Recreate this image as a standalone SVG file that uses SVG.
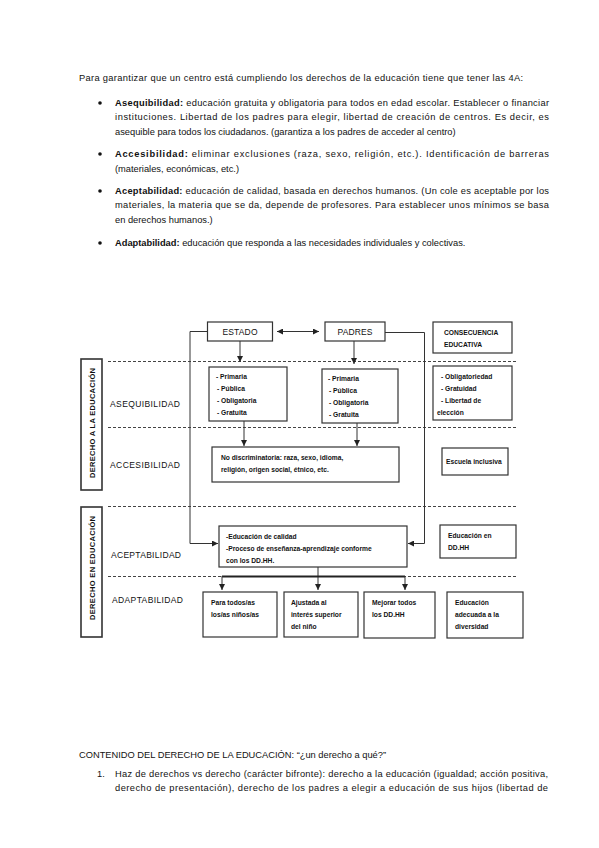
<svg xmlns="http://www.w3.org/2000/svg" width="599" height="848" viewBox="0 0 599 848">
<defs>
<marker id="ah" markerUnits="userSpaceOnUse" markerWidth="6" markerHeight="6" refX="6" refY="3" orient="auto">
<path d="M0,0 L6,3 L0,6 z" fill="#222"/>
</marker>
<marker id="ahs" markerUnits="userSpaceOnUse" markerWidth="6" markerHeight="6" refX="0" refY="3" orient="auto">
<path d="M6,0 L0,3 L6,6 z" fill="#222"/>
</marker>
<style>
.p{font-family:"Liberation Sans",Arial,sans-serif;font-size:9.3px;fill:#111}
.b{font-weight:bold}
.box{fill:#fff;stroke:#333;stroke-width:1.2}
.vbox{fill:#fff;stroke:#333;stroke-width:1.6}
.dash{stroke:#444;stroke-width:1;stroke-dasharray:3,2;fill:none}
.ln{stroke:#333;stroke-width:1;fill:none}
.lbl{font-family:"Liberation Sans",Arial,sans-serif;font-size:8.5px;fill:#111}
.bt{font-family:"Liberation Sans",Arial,sans-serif;font-size:6.7px;font-weight:bold;fill:#111}
.vt{font-family:"Liberation Sans",Arial,sans-serif;font-size:7.5px;font-weight:bold;fill:#111}
</style>
</defs>
<rect width="599" height="848" fill="#fff"/>

<g id="intro-text">
<text class="p" x="79" y="81" textLength="444" lengthAdjust="spacing">Para garantizar que un centro está cumpliendo los derechos de la educación tiene que tener las 4A:</text>
<circle cx="100" cy="103" r="1.8" fill="#111"/>
<text class="p" x="115" y="106" textLength="434" lengthAdjust="spacing"><tspan class="b">Asequibilidad:</tspan> educación gratuita y obligatoria para todos en edad escolar. Establecer o financiar</text>
<text class="p" x="115" y="120" textLength="434" lengthAdjust="spacing">instituciones. Libertad de los padres para elegir, libertad de creación de centros.  Es decir, es</text>
<text class="p" x="115" y="135">asequible para todos los ciudadanos. (garantiza a los padres de acceder al centro)</text>
<circle cx="100" cy="154" r="1.8" fill="#111"/>
<text class="p" x="115" y="157" textLength="434" lengthAdjust="spacing"><tspan class="b">Accesibilidad:</tspan> eliminar exclusiones (raza, sexo, religión, etc.). Identificación de barreras</text>
<text class="p" x="115" y="172">(materiales, económicas, etc.)</text>
<circle cx="100" cy="191" r="1.8" fill="#111"/>
<text class="p" x="115" y="194" textLength="434" lengthAdjust="spacing"><tspan class="b">Aceptabilidad:</tspan> educación de calidad, basada en derechos humanos. (Un cole es aceptable por los</text>
<text class="p" x="115" y="208" textLength="434" lengthAdjust="spacing">materiales, la materia que se da, depende de profesores. Para establecer unos mínimos se basa</text>
<text class="p" x="115" y="223">en derechos humanos.)</text>
<circle cx="100" cy="243" r="1.8" fill="#111"/>
<text class="p" x="115" y="246"><tspan class="b">Adaptabilidad:</tspan> educación que responda a las necesidades individuales y colectivas.</text>
</g>

<g id="dashed-lines">
<line class="dash" x1="108" y1="361.5" x2="518" y2="361.5"/>
<line class="dash" x1="108" y1="427.5" x2="518" y2="427.5"/>
<line class="dash" x1="108" y1="506.5" x2="518" y2="506.5"/>
<line class="dash" x1="108" y1="576.5" x2="518" y2="576.5"/>
</g>

<g id="row-labels">
<text class="lbl" x="110" y="407" textLength="70" lengthAdjust="spacing">ASEQUIBILIDAD</text>
<text class="lbl" x="110" y="468" textLength="70" lengthAdjust="spacing">ACCESIBILIDAD</text>
<text class="lbl" x="111" y="558" textLength="70" lengthAdjust="spacing">ACEPTABILIDAD</text>
<text class="lbl" x="112" y="603" textLength="71" lengthAdjust="spacing">ADAPTABILIDAD</text>
</g>

<g id="derecho-a-la-educacion">
<rect class="vbox" x="81" y="359" width="21" height="131"/>
<text class="vt" transform="translate(94.5,423) rotate(-90)" text-anchor="middle" textLength="110" lengthAdjust="spacing">DERECHO A LA EDUCACIÓN</text>
</g>
<g id="derecho-en-educacion">
<rect class="vbox" x="81" y="507" width="21" height="130"/>
<text class="vt" transform="translate(94.5,568) rotate(-90)" text-anchor="middle" textLength="104" lengthAdjust="spacing">DERECHO EN EDUCACIÓN</text>
</g>

<g id="connectors">
<line class="ln" x1="277" y1="331.5" x2="319" y2="331.5" marker-start="url(#ahs)" marker-end="url(#ah)"/>
<line class="ln" x1="240" y1="341" x2="240" y2="362" marker-end="url(#ah)"/>
<line class="ln" x1="354" y1="341" x2="354" y2="364" marker-end="url(#ah)"/>
<line class="ln" x1="244" y1="421" x2="244" y2="446" marker-end="url(#ah)"/>
<line class="ln" x1="357" y1="423" x2="357" y2="446" marker-end="url(#ah)"/>
<polyline class="ln" points="207,331.5 190,331.5 190,543.5 218,543.5" marker-end="url(#ah)"/>
<polyline class="ln" points="385,332.5 424.5,332.5 424.5,543.5 408,543.5" marker-end="url(#ah)"/>
<line class="ln" x1="318" y1="567" x2="318" y2="590" marker-end="url(#ah)"/>
<line x1="222" y1="576.5" x2="405" y2="576.5" stroke="#222" stroke-width="1.8"/>
<line class="ln" x1="222" y1="576" x2="222" y2="590" marker-end="url(#ah)"/>
<line class="ln" x1="405" y1="576" x2="405" y2="590" marker-end="url(#ah)"/>
</g>

<g id="estado">
<rect class="box" x="207.5" y="322" width="65" height="19"/>
<text class="lbl" x="240" y="335" text-anchor="middle" textLength="35" lengthAdjust="spacing">ESTADO</text>
</g>
<g id="padres">
<rect class="box" x="325" y="322" width="60" height="19"/>
<text class="lbl" x="355" y="335" text-anchor="middle" textLength="35" lengthAdjust="spacing">PADRES</text>
</g>
<g id="consecuencia-educativa">
<rect class="box" x="433" y="322" width="79" height="31"/>
<text class="bt" x="444" y="335">CONSECUENCIA</text>
<text class="bt" x="444" y="347">EDUCATIVA</text>
</g>

<g id="estado-asequibilidad">
<rect class="box" x="209" y="367" width="78" height="54"/>
<text class="bt" x="216" y="379">- Primaria</text>
<text class="bt" x="217" y="391">- Pública</text>
<text class="bt" x="217" y="403">- Obligatoria</text>
<text class="bt" x="217" y="415">- Gratuita</text>
</g>
<g id="padres-asequibilidad">
<rect class="box" x="322" y="369" width="76" height="54"/>
<text class="bt" x="328" y="381">- Primaria</text>
<text class="bt" x="329" y="393">- Pública</text>
<text class="bt" x="329" y="405">- Obligatoria</text>
<text class="bt" x="329" y="417">- Gratuita</text>
</g>
<g id="consecuencia-asequibilidad">
<rect class="box" x="433" y="366" width="79" height="54"/>
<text class="bt" x="441" y="379">- Obligatoriedad</text>
<text class="bt" x="441" y="391">- Gratuidad</text>
<text class="bt" x="441" y="403">- Libertad de</text>
<text class="bt" x="437" y="415">elección</text>
</g>

<g id="accesibilidad-box">
<rect class="box" x="212" y="447" width="187" height="35"/>
<text class="bt" x="221" y="460">No discriminatoria: raza, sexo, idioma,</text>
<text class="bt" x="221" y="472">religión, origen social, étnico, etc.</text>
</g>
<g id="escuela-inclusiva">
<rect class="box" x="442" y="448" width="66" height="27"/>
<text class="bt" x="446" y="464">Escuela inclusiva</text>
</g>

<g id="aceptabilidad-box">
<rect class="box" x="219" y="526" width="188" height="41"/>
<text class="bt" x="226" y="539">-Educación de calidad</text>
<text class="bt" x="226" y="551">-Proceso de enseñanza-aprendizaje conforme</text>
<text class="bt" x="226" y="563">con los DD.HH.</text>
</g>
<g id="educacion-ddhh">
<rect class="box" x="440" y="525" width="76" height="33"/>
<text class="bt" x="448" y="538">Educación en</text>
<text class="bt" x="448" y="550">DD.HH</text>
</g>

<g id="para-todos">
<rect class="box" x="203" y="592" width="74" height="45"/>
<text class="bt" x="211" y="605">Para todos/as</text>
<text class="bt" x="211" y="617">los/as niños/as</text>
</g>
<g id="ajustada">
<rect class="box" x="284" y="592" width="74" height="45"/>
<text class="bt" x="291" y="605">Ajustada al</text>
<text class="bt" x="291" y="617">interés superior</text>
<text class="bt" x="291" y="629">del niño</text>
</g>
<g id="mejorar">
<rect class="box" x="364" y="592" width="71" height="46"/>
<text class="bt" x="372" y="605">Mejorar todos</text>
<text class="bt" x="372" y="617">los DD.HH</text>
</g>
<g id="adecuada">
<rect class="box" x="447" y="592" width="76" height="46"/>
<text class="bt" x="455" y="605">Educación</text>
<text class="bt" x="455" y="617">adecuada a la</text>
<text class="bt" x="455" y="629">diversidad</text>
</g>

<g id="bottom-text">
<text class="p" x="79" y="758">CONTENIDO DEL DERECHO DE LA EDUCACIÓN: “¿un derecho a qué?”</text>
<text class="p" x="97" y="777">1.</text>
<text class="p" x="115" y="777" textLength="433" lengthAdjust="spacing">Haz de derechos vs derecho (carácter bifronte): derecho a la educación (igualdad; acción positiva,</text>
<text class="p" x="115" y="791" textLength="433" lengthAdjust="spacing">derecho de presentación), derecho de los padres a elegir a educación de sus hijos (libertad de</text>
</g>
</svg>
